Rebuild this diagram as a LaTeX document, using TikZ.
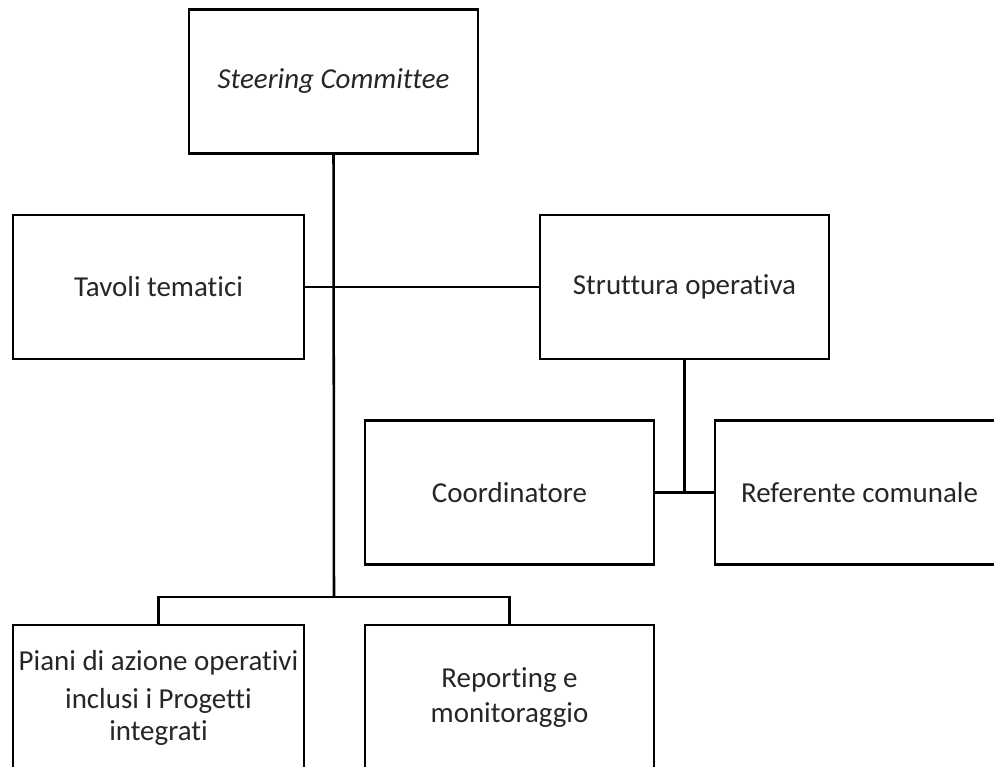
\documentclass[tikz,border=0pt]{standalone}
\usepackage{fontspec}
\setmainfont{Carlito}[Ligatures={NoCommon}]
\begin{document}
\begin{tikzpicture}[x=0.75pt,y=-0.75pt,
  box/.style={draw=black,line width=1.9pt,fill=white,minimum width=289*0.75pt,minimum height=144*0.75pt,inner sep=0pt,align=center,text=black!85,font=\fontsize{21.7}{24}\selectfont},
  conn/.style={draw=black,line width=1.9pt}]
\useasboundingbox (0,0) rectangle (994,766);
\clip (0,0) rectangle (994,766);
\fill[white] (0,0) rectangle (994,766);
\coordinate (bus) at (334,597);
\node[box] (sc) at (333.5,81.5) {\itshape Steering Committee};
\node[box,minimum width=291*0.75pt] (tav) at (158.5,287) {Tavoli tematici};
\node[box] (str) at (684.5,287) {Struttura operativa};
\node[box] (coo) at (509.5,492.5) {Coordinatore};
\node[box] (ref) at (859.5,492.5) {Referente comunale};
\node[box,minimum width=291*0.75pt,minimum height=145*0.75pt] (pia) at (158.5,697.5) {Piani di azione operativi\\[4.5pt]inclusi i Progetti\\integrati};
\node[box,minimum height=145*0.75pt] (rep) at (509.5,697.5) {Reporting e\\[2pt]monitoraggio};
\draw[conn] (sc.south) -- (bus);
\draw[conn] (tav.east) -- (str.west);
\draw[conn] (str.south) -- (str.south |- coo.east);
\draw[conn] (coo.east) -- (ref.west);
\draw[conn] (pia.north) |- (bus) -| (rep.north);
\end{tikzpicture}
\end{document}
